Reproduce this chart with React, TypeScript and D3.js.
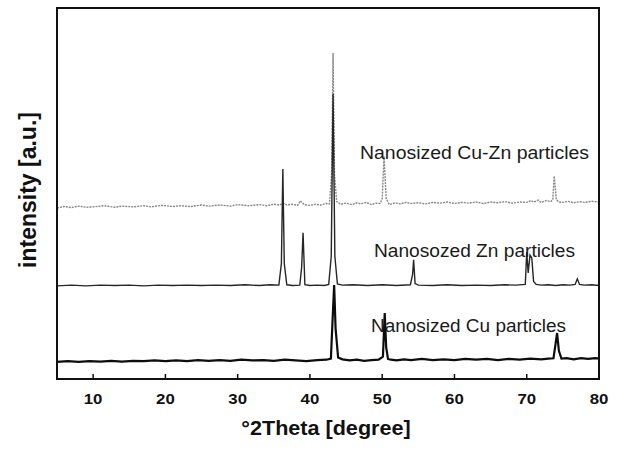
import React from "react";
import * as d3 from "d3";

// ---- Data (2θ in degrees, intensity in arbitrary units above each trace's own baseline) ----
const xTicks = [10, 20, 30, 40, 50, 60, 70, 80];

const cuZnTheta = [5, 6, 7, 8, 9, 10, 11.5, 13, 14, 15.5, 17, 18, 19.5, 21, 22, 23.5, 25, 26, 27.5, 29, 30, 31.5, 33, 34, 35, 35.8, 36.3, 36.8, 37.5, 38.3, 38.7, 39.2, 40, 40.8, 41.5, 42.2, 42.7, 43.0, 43.2, 43.4, 43.7, 44.3, 45, 45.8, 46.5, 47, 47.8, 48.5, 49.2, 49.7, 50.0, 50.25, 50.55, 51, 51.8, 52.5, 53.3, 54, 55, 56, 57, 58, 59, 60, 61, 62, 63, 64, 65, 66, 67, 68, 69, 70, 70.6, 71, 71.6, 72, 72.7, 73.3, 73.6, 73.8, 74.1, 74.5, 75, 75.7, 76.5, 77.3, 78, 79, 80];
const cuZnCounts = [0, 0.4, 0.1, 0.5, 0.2, 0.3, 0.6, 0.2, 0.5, 0.3, 0.6, 0.3, 0.7, 0.4, 0.6, 0.4, 0.8, 0.5, 0.8, 0.5, 0.9, 0.6, 0.9, 0.6, 1.0, 0.8, 1.3, 0.8, 1.0, 0.7, 1.9, 0.9, 0.7, 1.0, 0.8, 1.2, 1.1, 9, 41.8, 9, 1.7, 1.0, 1.3, 0.9, 1.4, 1.1, 1.5, 0.9, 1.3, 1.2, 2.5, 13.9, 2.5, 0.9, 1.4, 1.1, 1.5, 1.2, 1.4, 1.1, 1.5, 1.3, 1.6, 1.2, 1.5, 1.3, 1.6, 1.2, 1.6, 1.4, 1.7, 1.3, 1.6, 1.5, 2.0, 1.6, 2.1, 1.5, 2.0, 1.7, 2.2, 8.6, 2.2, 1.6, 1.5, 1.8, 1.4, 1.7, 1.5, 1.8, 1.6];

const znTheta = [5, 7, 9, 11, 13, 15, 17, 19, 21, 23, 25, 27, 29, 31, 33, 34.5, 35.7, 36.05, 36.25, 36.45, 36.8, 37.6, 38.6, 38.85, 39.05, 39.3, 40, 41, 42, 42.6, 42.95, 43.2, 43.45, 43.8, 44.5, 46, 48, 50, 52, 53.9, 54.2, 54.35, 54.55, 55, 57, 59, 61, 63, 65, 67, 68.5, 69.8, 70.0, 70.2, 70.45, 70.7, 70.95, 71.3, 72, 73, 74, 75, 76, 76.7, 77.0, 77.3, 78, 79, 80];
const znCounts = [0, 0.2, 0, 0.2, 0.1, 0.2, 0, 0.2, 0.1, 0.2, 0.1, 0.2, 0.1, 0.3, 0.1, 0.3, 0.2, 6, 31.5, 6, 0.3, 0.1, 0.2, 5, 14.3, 0.3, 0.1, 0.2, 0.1, 0.4, 8, 51.7, 8, 0.5, 0.2, 0.3, 0.1, 0.3, 0.1, 0.3, 3, 7.0, 0.6, 0.2, 0.1, 0.3, 0.1, 0.2, 0.1, 0.3, 0.2, 0.4, 9.1, 3.5, 8.3, 7.5, 1.2, 0.4, 0.2, 0.3, 0.1, 0.3, 0.2, 0.4, 1.9, 0.4, 0.2, 0.3, 0.1];

const cuTheta = [5, 6.5, 8, 9.5, 11, 12.5, 14, 15.5, 17, 18.5, 20, 21.5, 23, 24.5, 26, 27.5, 29, 30.5, 32, 33.5, 35, 36.5, 38, 39.5, 41, 42.3, 42.9, 43.15, 43.35, 43.55, 43.9, 44.5, 45.5, 46.5, 47.5, 48.5, 49.5, 50.1, 50.35, 50.55, 50.8, 51.2, 52, 53, 54, 55.5, 57, 58.5, 60, 61.5, 63, 64.5, 66, 67.5, 69, 70.5, 72, 73, 73.7, 74.0, 74.2, 74.45, 74.8, 75.5, 76.5, 77.5, 78.5, 79.5, 80];
const cuCounts = [0, 0.2, 0, 0.2, 0.1, 0.3, 0.1, 0.3, 0.2, 0.4, 0.2, 0.4, 0.2, 0.5, 0.3, 0.5, 0.3, 0.6, 0.4, 0.5, 0.3, 0.6, 0.4, 0.2, 0.5, 0.6, 0.9, 12, 20.7, 9, 1.2, 0.7, 0.4, 0.6, 0.3, 0.5, 0.6, 1.4, 13.2, 4, 0.8, 0.6, 0.4, 0.7, 0.5, 0.8, 0.5, 0.7, 0.5, 0.8, 0.6, 0.8, 0.5, 0.8, 0.6, 0.9, 0.7, 0.9, 1.0, 5, 7.8, 3, 0.9, 1.0, 0.7, 1.0, 0.8, 1.0, 0.9];

const seriesNames = ["Nanosized Cu-Zn particles", "Nanosozed Zn particles", "Nanosized Cu particles"];
const seriesOffsets = [46.1, 25.1, 4.6];

const W = 620;
const H = 450;
const left = 57, right = 599, top = 8, bottom = 379;
const FONT = "'Liberation Sans', Arial, Helvetica, sans-serif";

export default function App() {
  const x = d3.scaleLinear().domain([5, 80]).range([left, right]);
  const y = d3.scaleLinear().domain([0, 100]).range([bottom, top]);

  const mk = (th: number[], c: number[], off: number) =>
    d3.line<number>().x((_, i) => x(th[i])).y((v) => y(v + off))(c) || "";

  const pathCuZn = mk(cuZnTheta, cuZnCounts, seriesOffsets[0]);
  const pathZn = mk(znTheta, znCounts, seriesOffsets[1]);
  const pathCu = mk(cuTheta, cuCounts, seriesOffsets[2]);

  const stretch = (cx: number, cy: number, s: number) =>
    `translate(${cx},${cy}) scale(${s},1) translate(${-cx},${-cy})`;

  return (
    <svg width={W} height={H} style={{ position: "absolute", left: 0, top: 0, background: "#fff" }}>
      <rect x={0} y={0} width={W} height={H} fill="#fff" />
      <defs>
        <clipPath id="clip">
          <rect x={left} y={top} width={right - left} height={bottom - top} />
        </clipPath>
      </defs>
      <g clipPath="url(#clip)">
        <path d={pathCuZn} fill="none" stroke="#888" strokeWidth={1.4} strokeDasharray="2 1" />
        <path d={pathZn} fill="none" stroke="#262626" strokeWidth={1.4} />
        <path d={pathCu} fill="none" stroke="#0d0d0d" strokeWidth={2.2} />
      </g>
      <rect x={left} y={top} width={right - left} height={bottom - top} fill="none" stroke="#111" strokeWidth={2} />
      {xTicks.map((t) => (
        <line key={t} x1={x(t)} x2={x(t)} y1={bottom} y2={bottom - 5} stroke="#111" strokeWidth={1.5} />
      ))}
      {xTicks.map((t) => (
        <text key={"l" + t} x={x(t)} y={404} textAnchor="middle" fontFamily={FONT} fontWeight="bold" fontSize={15}
          fill="#111" transform={stretch(x(t), 404, 1.12)}>{t}</text>
      ))}
      <text x={326} y={435} textAnchor="middle" fontFamily={FONT} fontWeight="bold" fontSize={20} fill="#111"
        transform={stretch(326, 435, 1.08)}>°2Theta [degree]</text>
      <text transform="translate(36,190) rotate(-90)" textAnchor="middle" fontFamily={FONT} fontWeight="bold"
        fontSize={23} fill="#111">intensity [a.u.]</text>
      <text x={360} y={159} fontFamily={FONT} fontSize={17.5} fill="#1a1a1a" textLength={229} lengthAdjust="spacingAndGlyphs">{seriesNames[0]}</text>
      <text x={374} y={257} fontFamily={FONT} fontSize={17.5} fill="#1a1a1a" textLength={201} lengthAdjust="spacingAndGlyphs">{seriesNames[1]}</text>
      <text x={371} y={332} fontFamily={FONT} fontSize={17.5} fill="#1a1a1a" textLength={195} lengthAdjust="spacingAndGlyphs">{seriesNames[2]}</text>
    </svg>
  );
}
